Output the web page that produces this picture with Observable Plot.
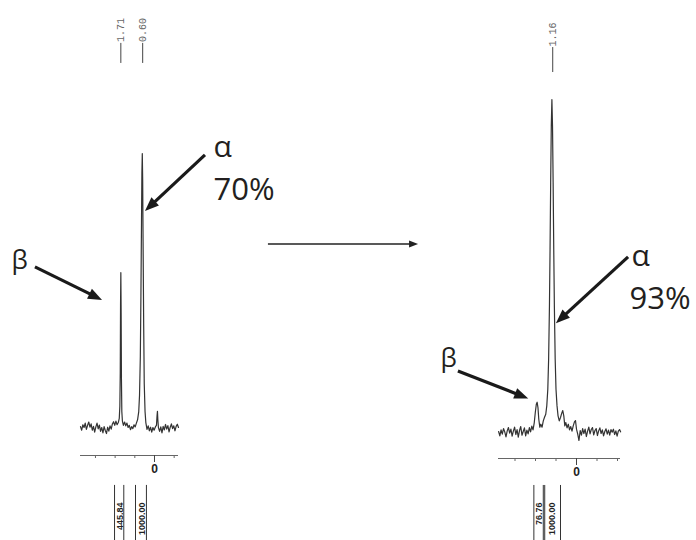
<!DOCTYPE html>
<html><head><meta charset="utf-8">
<script src="https://cdn.jsdelivr.net/npm/d3@7"></script>
<script src="https://cdn.jsdelivr.net/npm/@observablehq/plot@0.6"></script>
<style>
html,body{margin:0;padding:0;background:#fff;}
#fig{position:relative;width:696px;height:540px;overflow:hidden;background:#fff;}
#fig svg{position:absolute;left:0;top:0;}
</style></head><body><div id="fig"></div>
<script>
// ---- Spectrum before (left): chemical shift (ppm) and relative intensity (alpha peak = 100)
const beforePpm = [3.76,3.70,3.64,3.58,3.52,3.46,3.40,3.34,3.28,3.22,3.16,3.10,3.04,2.98,2.92,2.86,2.80,2.74,2.68,2.62,2.56,2.50,2.44,2.38,2.32,2.26,2.20,2.14,2.08,2.02,1.96,1.90,1.84,
  1.79,1.76,1.74,1.725,1.71,1.695,1.68,1.66,1.63,
  1.58,1.52,1.46,1.40,1.34,1.28,1.22,1.16,1.10,1.04,0.98,0.92,0.86,
  0.80,0.76,0.72,0.69,0.66,0.64,0.62,0.60,0.58,0.55,0.52,0.48,0.44,
  0.38,0.32,0.26,0.20,0.14,0.08,0.02,
  -0.05,-0.10,-0.13,-0.15,-0.17,-0.20,
  -0.26,-0.32,-0.38,-0.44,-0.50,-0.56,-0.62,-0.68,-0.74,-0.80,-0.86,-0.92,-0.98,-1.04,-1.10,-1.16,-1.22];
const beforeIntensity = [0.5,-0.8,1.2,0.2,1.8,-0.5,1.0,2.2,0.3,1.5,-0.8,0.6,-1.5,0.4,1.8,-0.3,1.1,-1.2,0.2,-1.8,0.5,-0.9,-2.0,0.3,-1.1,0.8,-0.4,1.5,2.3,1.0,2.5,1.2,2.0,
  3.5,8,20,45,56.6,42,18,6,2.5,
  1.0,2.2,0.8,1.8,0.2,1.0,-0.6,0.5,-0.2,1.2,0.4,1.8,3.0,
  6,12,26,48,75,93,100,90,68,38,16,6,2,
  -0.5,0.8,-1.0,0.3,-1.5,0.2,-0.8,
  0.5,1.0,4.5,6.1,3.0,0.2,
  -1.2,0.4,-1.8,0.6,-0.7,1.3,-0.4,0.9,-1.4,0.3,1.5,-0.2,0.8,-1.0,0.6,1.4,0.2];

// ---- Spectrum after (right)
const afterPpm = [3.80,3.74,3.68,3.62,3.56,3.50,3.44,3.38,3.32,3.26,3.20,3.14,3.08,3.02,2.96,2.90,2.84,2.78,2.72,2.66,2.60,2.54,2.48,2.42,2.36,2.30,2.24,2.18,2.12,2.06,
  2.01,1.96,1.92,1.88,1.84,1.79,1.74,1.68,1.62,1.56,1.50,1.45,1.40,1.36,1.32,1.29,1.26,1.23,1.20,1.17,1.14,1.11,1.08,1.04,1.00,0.95,0.90,0.84,0.78,0.72,0.67,0.62,0.57,0.52,0.46,0.40,0.34,0.28,0.22,0.16,0.10,0.05,0.00,
  -0.06,-0.12,-0.18,-0.24,-0.30,-0.36,-0.42,-0.48,-0.54,-0.60,-0.66,-0.72,-0.78,-0.84,-0.90,-0.96,-1.02,-1.08,-1.14,-1.20,-1.26,-1.32,-1.38,-1.44,-1.50,-1.56,-1.62,-1.68,-1.74,-1.80,-1.86,-1.92,-1.98,-2.04,-2.10,-2.15];
const afterIntensity = [0.3,-1.0,0.8,-0.5,1.2,0.2,-1.3,0.5,1.5,-0.2,1.0,-1.1,0.4,1.6,-0.6,0.9,-1.4,0.6,1.8,-0.8,0.3,1.4,-1.0,0.7,-0.4,1.5,0.2,1.9,0.8,3.0,
  6.0,8.5,9.1,7.5,4.0,1.6,2.5,1.6,3.5,4.6,5.5,8,13,22,38,55,75,92,100,92,75,55,38,22,13,8,5,3.5,4.5,5.8,6.6,5.0,2.0,3.0,1.4,2.5,0.8,1.8,0.4,2.0,3.2,3.6,1.0,
  -0.5,-2.4,0.6,-0.8,1.2,-0.3,1.0,-1.2,0.4,1.6,-0.4,0.9,1.5,-0.7,0.6,1.2,-0.9,0.5,1.4,-0.3,0.8,-1.0,0.3,1.1,-0.5,0.7,-0.8,0.9,0.1,1.0,-0.6,0.5,-1.1,0.4,0.9,0.2];

// ---- Peak labels (top) and integrals (bottom)
const beforePeakPpm = [1.71, 0.60];
const beforePeakLabels = ["1.71", "0.60"];
const afterPeakPpm = [1.16];
const afterPeakLabels = ["1.16"];

const beforeIntegralCenters = [1.73, 0.625];
const beforeIntegralLabels = ["445.84", "1000.00"];
const beforeIntegralEdges = [2.03, 1.56, 0.965, 0.41];
const afterIntegralCenters = [1.84, 1.19];
const afterIntegralLabels = ["76.76", "1000.00"];
const afterIntegralEdges = [2.08, 1.62, 1.55, 0.78];

// ---- Axis ticks (ppm)
const beforeTicks = [3, 2, 1, 0, -1];
const afterTicks = [3, 2, 1, 0, -1, -2];
const labeledTick = [0];

// ---- Annotations (data coordinates of each panel)
const beforeNoteText = ["α", "70%", "β"];
const beforeNotePpm = [-3.0, -3.0, 7.27];
const beforeNoteValue = [98.9, 82.9, 58.1];
const beforeNoteSize = [30, 31, 26];
const afterNoteText = ["α", "93%", "β"];
const afterNotePpm = [-2.68, -2.59, 6.63];
const afterNoteValue = [49.9, 37.2, 19.8];
const afterNoteSize = [30, 31, 26];

const beforeArrows = [
  {x1: 6.05, y1: 58.5, x2: 2.64, y2: 46.5},
  {x1: -2.59, y1: 99.3, x2: 0.46, y2: 78.9}
];
const reactionArrow = [{x1: -5.79, y1: 66.85, x2: -13.42, y2: 66.85}];
const afterArrows = [
  {x1: -2.54, y1: 52.6, x2: 0.98, y2: 32.7},
  {x1: 5.76, y1: 18.3, x2: 2.33, y2: 10.1}
];

// ---- helpers
const spectrum = (ppm, val) => ppm.map((p, i) => ({ppm: p, v: val[i]}));
const rows = (xs, labels) => xs.map((p, i) => ({ppm: p, label: labels[i]}));
const notes = (t, p, v, s) => t.map((d, i) => ({text: d, ppm: p[i], v: v[i], size: s[i]}));

function arrowMark(list, {width, head, headWidth, color = "#1a1a1a"}) {
  return (index, scales) => {
    const g = d3.create("svg:g");
    for (const a of list) {
      const X1 = scales.x(a.x1), Y1 = scales.y(a.y1), X2 = scales.x(a.x2), Y2 = scales.y(a.y2);
      const L = Math.hypot(X2 - X1, Y2 - Y1), ux = (X2 - X1) / L, uy = (Y2 - Y1) / L;
      const bx = X2 - ux * head, by = Y2 - uy * head;
      g.append("line").attr("x1", X1).attr("y1", Y1).attr("x2", bx + ux).attr("y2", by + uy)
        .attr("stroke", color).attr("stroke-width", width);
      const hw = headWidth / 2;
      g.append("path").attr("fill", color)
        .attr("d", `M${X2},${Y2}L${bx - uy * hw},${by + ux * hw}L${bx + uy * hw},${by - ux * hw}Z`);
    }
    return g.node();
  };
}

const noteFont = "'Open Sans', 'Noto Sans', sans-serif";
const monoFont = "'Liberation Mono', 'DejaVu Sans Mono', monospace";
const narrowFont = "'Liberation Sans Narrow', 'Liberation Sans', Arial, sans-serif";

function panel({ppm, val, xDomain, yDomain, margins, ticks, peaks, peakY, integrals, edges, edgeY, intY, noteRows, arrowList, extraArrows}) {
  return Plot.plot({
    width: 696, height: 540,
    ...margins,
    x: {domain: xDomain, label: null},
    y: {domain: yDomain, axis: null, label: null},
    style: {background: "transparent", overflow: "visible"},
    marks: [
      Plot.ruleY([yDomain[0]], {stroke: "#666", strokeWidth: 1}),
      Plot.axisX(ticks.filter(t => t !== 0), {anchor: "bottom", tickSize: 3, tickFormat: () => "", stroke: "#666", label: null}),
      Plot.axisX(labeledTick, {anchor: "bottom", tickSize: 7, tickPadding: 2, fontSize: 12, fontWeight: "bold",
        fontFamily: "'Liberation Sans', Arial, sans-serif", stroke: "#444", color: "#222", label: null}),
      Plot.line(spectrum(ppm, val), {x: "ppm", y: "v", stroke: "#333", strokeWidth: 1.2, strokeLinejoin: "round"}),
      Plot.ruleX(peaks, {x: "ppm", y1: peakY[0], y2: peakY[1], stroke: "#444", strokeWidth: 1}),
      Plot.text(peaks, {x: "ppm", y: peakY[2], text: "label", rotate: -90, textAnchor: "start", lineAnchor: "middle",
        fontFamily: monoFont, fontSize: 10, fill: "#666"}),
      Plot.ruleX(edges, {x: d => d, y1: edgeY[0], y2: edgeY[1], stroke: "#333", strokeWidth: 1}),
      Plot.text(integrals, {x: "ppm", y: intY, text: "label", rotate: -90, textAnchor: "end", lineAnchor: "middle",
        fontFamily: narrowFont, fontWeight: "bold", fontSize: 9, fill: "#222"}),
      Plot.text(noteRows, {x: "ppm", y: "v", text: "text", fontSize: d => d.size, textAnchor: "start", lineAnchor: "bottom",
        fontFamily: noteFont, fill: "#231f20"}),
      arrowMark(arrowList, {width: 3.2, head: 14, headWidth: 11}),
      ...(extraArrows ? [arrowMark(extraArrows, {width: 1.4, head: 9, headWidth: 7, color: "#222"})] : [])
    ]
  });
}

const left = panel({
  ppm: beforePpm, val: beforeIntensity,
  xDomain: [3.76, -1.22], yDomain: [-10, 100],
  margins: {marginLeft: 80, marginRight: 518, marginTop: 153, marginBottom: 85},
  ticks: beforeTicks,
  peaks: rows(beforePeakPpm, beforePeakLabels), peakY: [132.8, 140.1, 140.6],
  integrals: rows(beforeIntegralCenters, beforeIntegralLabels), edges: beforeIntegralEdges, edgeY: [-20.9, -41], intY: -27.1,
  noteRows: notes(beforeNoteText, beforeNotePpm, beforeNoteValue, beforeNoteSize),
  arrowList: beforeArrows, extraArrows: reactionArrow
});

const right = panel({
  ppm: afterPpm, val: afterIntensity,
  xDomain: [3.805, -2.146], yDomain: [-7.8, 100],
  margins: {marginLeft: 498, marginRight: 76, marginTop: 99, marginBottom: 82},
  ticks: afterTicks,
  peaks: rows(afterPeakPpm, afterPeakLabels), peakY: [108.1, 115.6, 115.9],
  integrals: rows(afterIntegralCenters, afterIntegralLabels), edges: afterIntegralEdges, edgeY: [-15.9, -33], intY: -21.0,
  noteRows: notes(afterNoteText, afterNotePpm, afterNoteValue, afterNoteSize),
  arrowList: afterArrows
});

const fig = document.getElementById("fig");
fig.append(left, right);
</script></body></html>
